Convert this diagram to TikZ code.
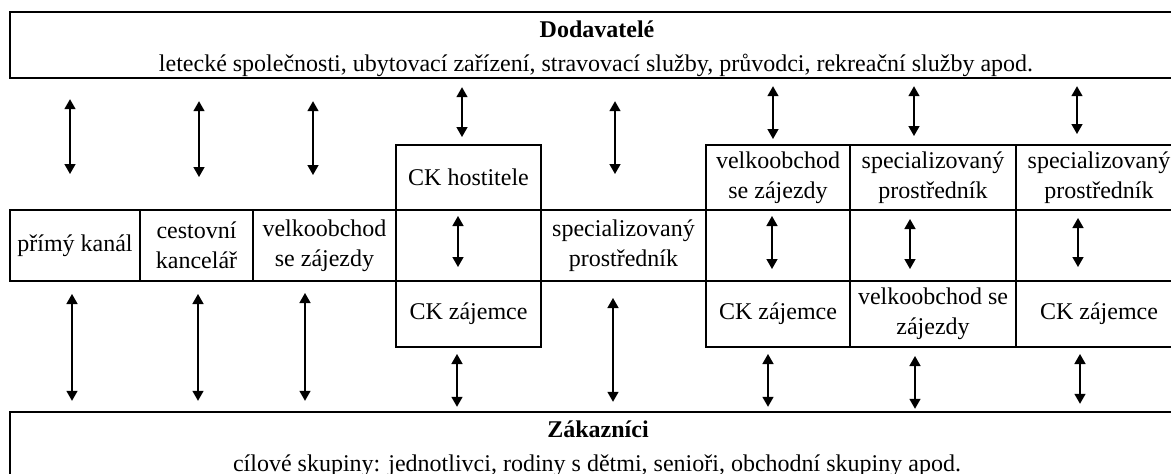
\documentclass[tikz,border=0pt]{standalone}
\usepackage{fontspec}
\setmainfont{Liberation Serif}
\usetikzlibrary{arrows.meta}
\newcommand\cellfont{\fontsize{24}{30}\selectfont}
\newcommand\varr[5]{\draw[arr, shorten <=#4pt, shorten >=#5pt] (#1 -| #3) -- (#2 -| #3);}
\begin{document}
\begin{tikzpicture}[x=1pt,y=-1pt,
  cell/.style={draw, line width=2pt, inner sep=0pt, align=center, font=\cellfont},
  arr/.style={{Triangle[width=11pt,length=10pt]}-{Triangle[width=11pt,length=10pt]}, line width=1.5pt},
  lbl/.style={inner sep=0pt, anchor=base, font=\cellfont}]
\useasboundingbox (0,0) rectangle (1171,474);
\clip (0,0) rectangle (1171,474);
% supplier box
\node[cell, line width=2.4pt, minimum width=1172pt, minimum height=66pt] (sup) at (596,45) {};
\node[lbl, font=\cellfont\bfseries] (supT) at (597,37) {Dodavatelé};
\node[lbl] (supS) at (596,71) {letecké společnosti, ubytovací zařízení, stravovací služby, průvodci, rekreační služby apod.};
% middle row
\node[cell, minimum width=130pt, minimum height=71pt] (A) at (75,245.5) {přímý kanál};
\node[cell, minimum width=113pt, minimum height=71pt] (B) at (196.5,245.5) {cestovní\\kancelář};
\node[cell, minimum width=143pt, minimum height=71pt] (C) at (324.5,245.5) {velkoobchod\\se zájezdy};
\node[cell, minimum width=145pt, minimum height=71pt] (D) at (468.5,245.5) {};
\node[cell, minimum width=165pt, minimum height=71pt] (E) at (623.5,245.5) {specializovaný\\prostředník};
\node[cell, minimum width=144pt, minimum height=71pt] (F) at (778,245.5) {};
\node[cell, minimum width=166pt, minimum height=71pt] (G) at (933,245.5) {};
\node[cell, minimum width=166pt, minimum height=71pt] (H) at (1099,245.5) {};
% upper boxes
\node[cell, minimum width=145pt, minimum height=65pt] (Dt) at (468.5,177.5) {CK hostitele};
\node[cell, minimum width=144pt, minimum height=65pt] (Ft) at (778,177.5) {velkoobchod\\se zájezdy};
\node[cell, minimum width=166pt, minimum height=65pt] (Gt) at (933,177.5) {specializovaný\\prostředník};
\node[cell, minimum width=166pt, minimum height=65pt] (Ht) at (1099,177.5) {specializovaný\\prostředník};
% lower boxes
\node[cell, minimum width=145pt, minimum height=66pt] (Db) at (468.5,314) {CK zájemce};
\node[cell, minimum width=144pt, minimum height=66pt] (Fb) at (778,314) {CK zájemce};
\node[cell, minimum width=166pt, minimum height=66pt] (Gb) at (933,314) {velkoobchod se\\zájezdy};
\node[cell, minimum width=166pt, minimum height=66pt] (Hb) at (1099,314) {CK zájemce};
% customer box
\node[cell, line width=2.4pt, minimum width=1172pt, minimum height=88pt] (zak) at (596,456) {};
\node[lbl, font=\cellfont\bfseries] (zakT) at (598,437) {Zákazníci};
\node[lbl] (zakS) at (597,471) {cílové skupiny: jednotlivci, rodiny s dětmi, senioři, obchodní skupiny apod.};
% column coordinates
\coordinate (t1) at (70,0);   \coordinate (t2) at (199,0);  \coordinate (t3) at (313,0);
\coordinate (t4) at (462,0);  \coordinate (t5) at (615,0);  \coordinate (t6) at (773,0);
\coordinate (t7) at (914,0);  \coordinate (t8) at (1077,0);
\coordinate (m4) at (458,0);  \coordinate (m6) at (772,0);  \coordinate (m7) at (910,0);
\coordinate (m8) at (1078,0);
\coordinate (b1) at (72,0);   \coordinate (b2) at (198,0);  \coordinate (b3) at (305,0);
\coordinate (b4) at (457,0);  \coordinate (b5) at (613,0);  \coordinate (b6) at (768,0);
\coordinate (b7) at (915,0);  \coordinate (b8) at (1080,0);
% top arrows
\varr{sup.south}{A.north}{t1}{20}{35}
\varr{sup.south}{B.north}{t2}{22}{32}
\varr{sup.south}{C.north}{t3}{22}{34}
\varr{sup.south}{Dt.north}{t4}{8}{7}
\varr{sup.south}{E.north}{t5}{22}{35}
\varr{sup.south}{Ft.north}{t6}{7}{5}
\varr{sup.south}{Gt.north}{t7}{7}{8}
\varr{sup.south}{Ht.north}{t8}{7}{10}
% middle arrows
\varr{Dt.south}{Db.north}{m4}{5}{13}
\varr{Ft.south}{Fb.north}{m6}{5}{11}
\varr{Gt.south}{Gb.north}{m7}{8}{11}
\varr{Ht.south}{Hb.north}{m8}{7}{13}
% bottom arrows
\varr{A.south}{zak.north}{b1}{12}{10}
\varr{B.south}{zak.north}{b2}{12}{10}
\varr{C.south}{zak.north}{b3}{11}{10}
\varr{Db.south}{zak.north}{b4}{6}{4}
\varr{E.south}{zak.north}{b5}{16}{9}
\varr{Fb.south}{zak.north}{b6}{6}{4}
\varr{Gb.south}{zak.north}{b7}{8}{2}
\varr{Hb.south}{zak.north}{b8}{6}{7}
\end{tikzpicture}
\end{document}
